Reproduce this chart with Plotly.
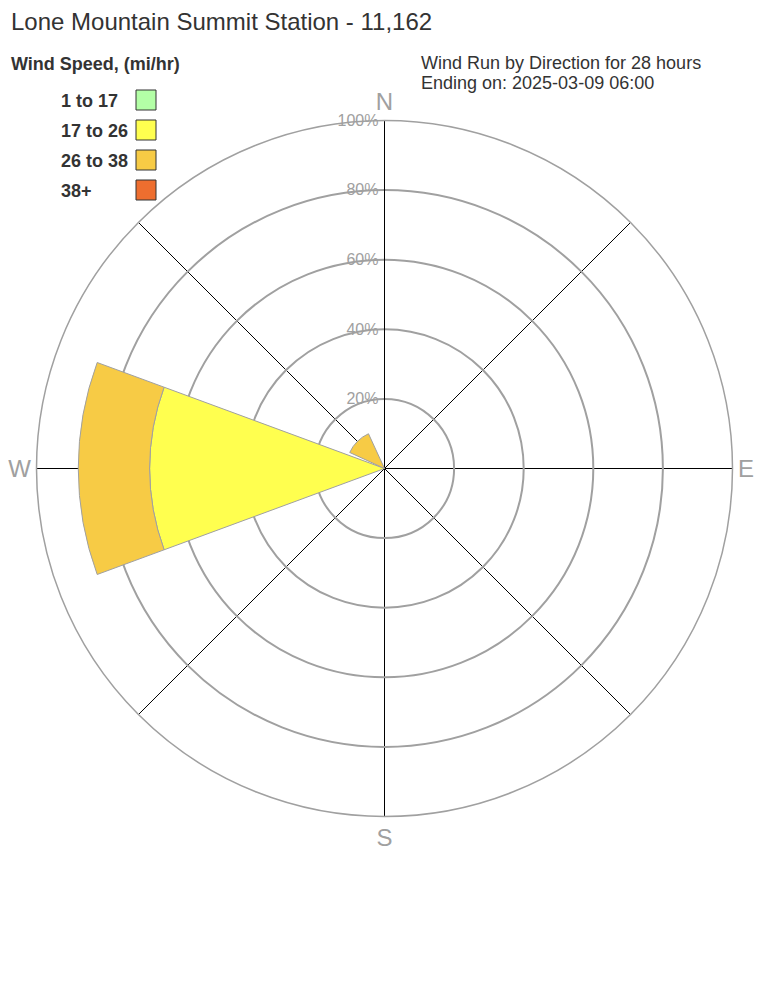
import plotly.graph_objects as go

directions = ["N", "NE", "E", "SE", "S", "SW", "W", "NW"]
angles = [0, 45, 90, 135, 180, 225, 270, 315]
speed_bins = ["1 to 17", "17 to 26", "26 to 38", "38+"]
bin_colors = ["#B3FFA6", "#FFFF4F", "#F7CB45", "#EE6E2F"]
pct_1_17 = [0, 0, 0, 0, 0, 0, 0, 0]
pct_17_26 = [0, 0, 0, 0, 0, 0, 67.5, 0]
pct_26_38 = [0, 0, 0, 0, 0, 0, 20.5, 11]
pct_38p = [0, 0, 0, 0, 0, 0, 0, 0]
series = [pct_1_17, pct_17_26, pct_26_38, pct_38p]
radial_ticks = [20, 40, 60, 80, 100]
radial_labels = ["20%", "40%", "60%", "80%", "100%"]
compass_labels = ["N", "", "E", "", "S", "", "W", ""]

title_text = "Lone Mountain Summit Station - 11,162"
legend_title = "Wind Speed, (mi/hr)"
note_lines = ["Wind Run by Direction for 28 hours", "Ending on: 2025-03-09 06:00"]

FONT = "Liberation Sans, Arial, sans-serif"
W, H = 768, 1008
OFF = 8  # page body margin

fig = go.Figure()
for name, vals, col in zip(speed_bins, series, bin_colors):
    fig.add_trace(go.Barpolar(
        r=vals, theta=angles, name=name, width=[40.5] * len(angles),
        marker=dict(color=col, line=dict(color="#A0A0A0", width=1)),
        showlegend=False,
    ))

annotations = [
    dict(text=title_text, x=9, y=22, showarrow=False,
         xanchor="left", yanchor="middle", font=dict(size=24, color="#333333", family=FONT)),
    dict(text="<b>" + legend_title + "</b>", x=9, y=64, showarrow=False,
         xanchor="left", yanchor="middle", font=dict(size=18, color="#333333", family=FONT)),
]
for j, line in enumerate(note_lines):
    annotations.append(dict(text=line, x=419, y=63 + 20 * j, showarrow=False,
                            xanchor="left", yanchor="middle",
                            font=dict(size=18, color="#333333", family=FONT)))
shapes = []
for i, (name, col) in enumerate(zip(speed_bins, bin_colors)):
    yc = 100 + 30 * i
    annotations.append(dict(text="<b>" + name + "</b>", x=59, y=yc + 1,
                            showarrow=False, xanchor="left", yanchor="middle",
                            font=dict(size=18, color="#333333", family=FONT)))
    shapes.append(dict(type="rect", xref="paper", yref="paper", x0=136, x1=156, y0=yc - 10, y1=yc + 10,
                       fillcolor=col, line=dict(color="#333333", width=1)))

# convert page pixel positions to paper coordinates
for a in annotations:
    a["xref"], a["yref"] = "paper", "paper"
    a["x"] = (a["x"] - OFF) / W
    a["y"] = 1 - (a["y"] - OFF) / H
for s in shapes:
    s["x0"], s["x1"] = (s["x0"] - OFF) / W, (s["x1"] - OFF) / W
    y0, y1 = 1 - (s["y0"] - OFF) / H, 1 - (s["y1"] - OFF) / H
    s["y0"], s["y1"] = min(y0, y1), max(y0, y1)

cx, cy, rad = 384.5 - OFF, 468.5 - OFF, 348

fig.update_layout(
    width=W, height=H,
    margin=dict(l=0, r=0, t=0, b=0),
    paper_bgcolor="white",
    plot_bgcolor="white",
    font=dict(family=FONT),
    annotations=annotations,
    shapes=shapes,
    polar=dict(
        domain=dict(x=[(cx - rad) / W, (cx + rad) / W], y=[1 - (cy + rad) / H, 1 - (cy - rad) / H]),
        bgcolor="white",
        barmode="stack",
        radialaxis=dict(
            range=[0, 100], tickvals=radial_ticks, ticktext=radial_labels,
            angle=90, tickangle=90, side="counterclockwise",
            showline=True, linecolor="black", linewidth=1,
            gridcolor="#A0A0A0", gridwidth=1.5, ticks="",
            tickfont=dict(size=16, color="#A0A0A0", family=FONT),
            layer="below traces",
        ),
        angularaxis=dict(
            direction="clockwise", rotation=90,
            tickvals=angles, ticktext=compass_labels,
            showline=True, linecolor="#A0A0A0", linewidth=1.5,
            gridcolor="black", gridwidth=1, ticks="",
            tickfont=dict(size=24, color="#A0A0A0", family=FONT),
            layer="above traces",
        ),
    ),
)

fig.write_html("out.html")
